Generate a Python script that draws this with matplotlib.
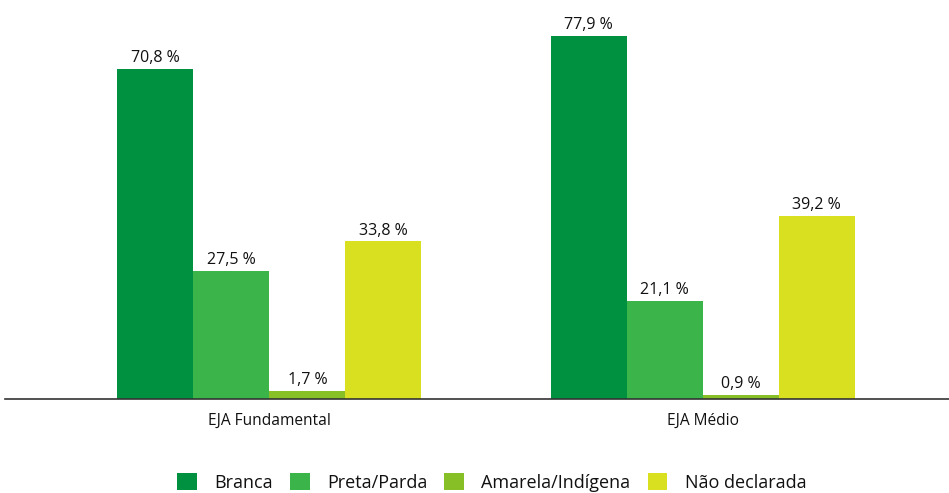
import numpy as np
import matplotlib.pyplot as plt

groups = ['EJA Fundamental', 'EJA Médio']
series = ['Branca', 'Preta/Parda', 'Amarela/Indígena', 'Não declarada']
values = {
    'Branca': [70.8, 77.9],
    'Preta/Parda': [27.5, 21.1],
    'Amarela/Indígena': [1.7, 0.9],
    'Não declarada': [33.8, 39.2],
}
colors = ['#009140', '#3bb54a', '#86bf26', '#d8e020']

plt.rcParams['font.family'] = ['Open Sans', 'DejaVu Sans']

fig = plt.figure(figsize=(9.49, 4.93), dpi=100)
ax = fig.add_axes([0.005, 1 - 399 / 493, 0.995, 399 / 493])

x = np.arange(len(groups))
w = 0.1755
for i, (name, c) in enumerate(zip(series, colors)):
    pos = x + (i - 1.5) * w
    vals = values[name]
    ax.bar(pos, vals, width=w, color=c, label=name)
    for p, v in zip(pos, vals):
        ax.text(p, v + 0.6, f'{v:.1f} %'.replace('.', ','), ha='center', va='bottom',
                fontsize=11.5, color='#111111')

ax.set_xlim(-0.611, 1.569)
ax.set_ylim(0, 85.6)
ax.set_yticks([])
ax.set_xticks(x)
ax.set_xticklabels(groups, fontsize=11.2, color='#111111')
ax.tick_params(axis='x', length=0, pad=10)
for s in ['top', 'right', 'left']:
    ax.spines[s].set_visible(False)
ax.spines['bottom'].set_color('#333333')
ax.spines['bottom'].set_linewidth(1.2)

fig.legend(loc='lower center', bbox_to_anchor=(0.518, -0.03), ncol=4, frameon=False,
           fontsize=13, handlelength=1.1, handleheight=1.1, columnspacing=0.95,
           handletextpad=0.95, labelcolor='#111111')

fig.savefig('out.png', dpi=100)
